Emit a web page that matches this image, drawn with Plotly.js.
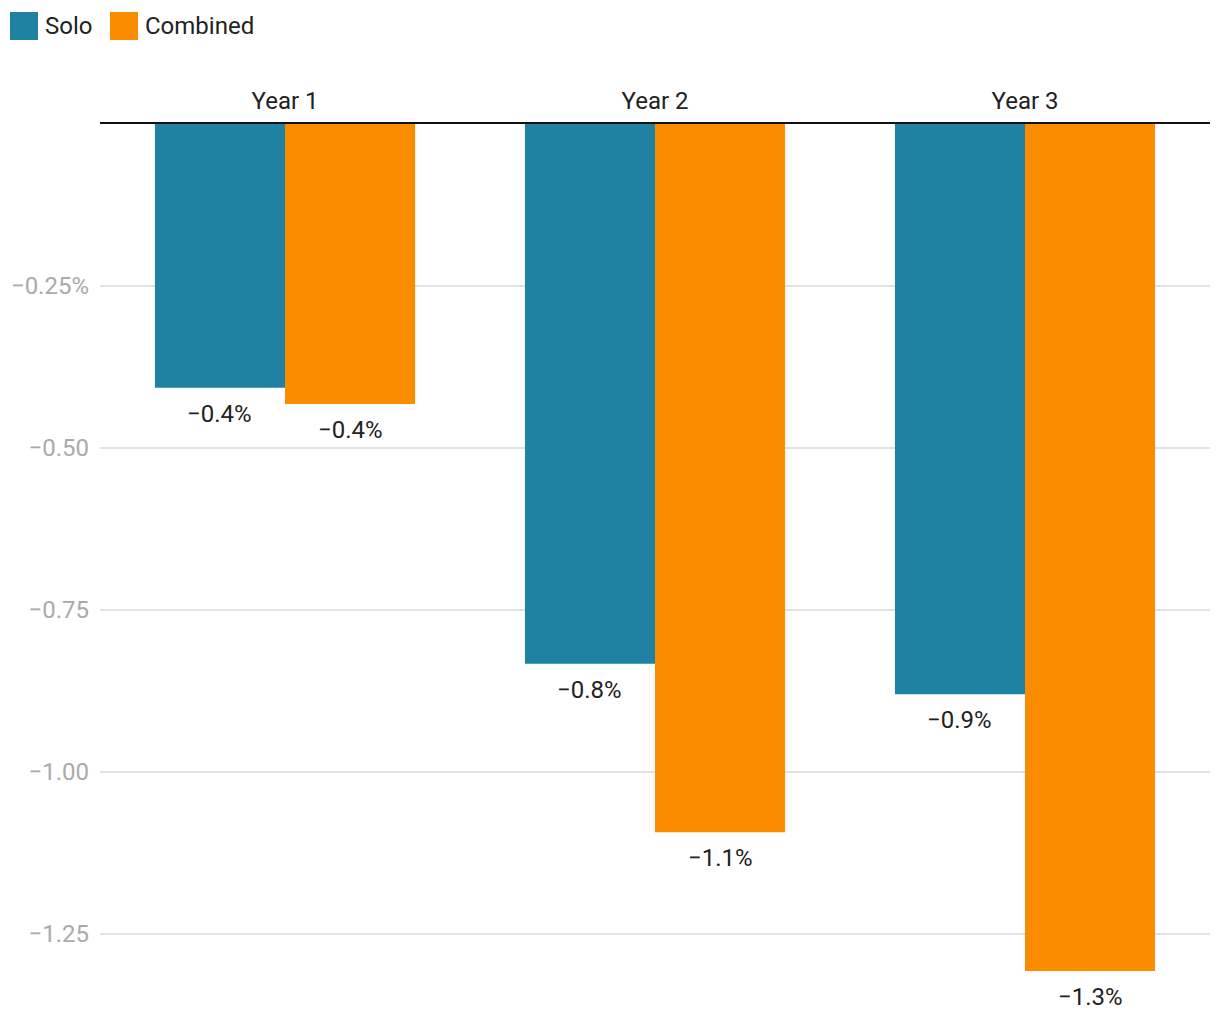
<!DOCTYPE html>
<html>
<head>
<meta charset="utf-8">
<script src="https://cdn.plot.ly/plotly-3.0.1.min.js"></script>
<style>html,body{margin:0;padding:0;background:#fff;}#chart{width:1220px;height:1020px;}</style>
</head>
<body>
<div id="chart"></div>
<script>
const categories = ['Year 1', 'Year 2', 'Year 3'];
const seriesNames = ['Solo', 'Combined'];
const soloValues = [-0.407, -0.833, -0.880];
const combinedValues = [-0.432, -1.093, -1.307];
const seriesColors = ['#1f82a3', '#fb8c00'];
const yTickVals = [-0.25, -0.5, -0.75, -1.0, -1.25];
const yTickText = ['\u22120.25%', '\u22120.50', '\u22120.75', '\u22121.00', '\u22121.25'];

const W = 1220, H = 1020;
const M = {l: 100, r: 10, t: 124, b: 15};
const plotW = W - M.l - M.r, plotH = H - M.t - M.b;
const pxPerUnit = 648;
const yMin = -plotH / pxPerUnit;
const BARGAP = 0.297;

function fmt(v) { return (v < 0 ? '\u2212' : '') + Math.abs(v).toFixed(1) + '%'; }
function px2paperX(px) { return (px - M.l) / plotW; }
function px2paperY(py) { return (H - M.b - py) / plotH; }

const allValues = [soloValues, combinedValues];
const traces = seriesNames.map((name, i) => ({
  type: 'bar',
  name: name,
  x: categories,
  y: allValues[i],
  marker: {color: seriesColors[i]},
  hoverinfo: 'none'
}));

const shapes = [];
const annotations = [];
const legendX = [10, 110];
seriesNames.forEach((name, i) => {
  shapes.push({type: 'rect', xref: 'paper', yref: 'paper',
    x0: px2paperX(legendX[i]), x1: px2paperX(legendX[i] + 28),
    y0: px2paperY(40), y1: px2paperY(12),
    fillcolor: seriesColors[i], line: {width: 0}});
  annotations.push({xref: 'paper', yref: 'paper', x: px2paperX(legendX[i] + 33), y: px2paperY(26),
    xanchor: 'left', yanchor: 'middle', text: name, showarrow: false,
    font: {family: 'Roboto', size: 24, color: '#222'}});
});

// value labels under each bar, aligned to the grouped bar positions
const catPx = plotW / categories.length;
const barPx = catPx * (1 - BARGAP) / seriesNames.length;
allValues.forEach((vals, i) => {
  vals.forEach((v, j) => {
    annotations.push({xref: 'x', yref: 'y', x: categories[j], y: v,
      xshift: (i - (seriesNames.length - 1) / 2) * barPx,
      yshift: -26, xanchor: 'center', yanchor: 'middle',
      text: fmt(v), showarrow: false,
      font: {family: 'Roboto', size: 24, color: '#222'}});
  });
});

const layout = {
  width: W, height: H,
  margin: M,
  paper_bgcolor: '#fff', plot_bgcolor: '#fff',
  showlegend: false,
  barmode: 'group',
  bargap: BARGAP,
  bargroupgap: 0,
  font: {family: 'Roboto', color: '#222'},
  xaxis: {
    side: 'top',
    showline: true, linecolor: '#111', linewidth: 2,
    ticks: '', showgrid: false,
    tickfont: {family: 'Roboto', size: 24, color: '#222'},
    ticklabelstandoff: 3,
    fixedrange: true
  },
  yaxis: {
    range: [yMin, 0],
    tickvals: yTickVals, ticktext: yTickText,
    showgrid: true, gridcolor: '#e2e2e2', gridwidth: 1.5,
    zeroline: false, showline: false, ticks: '',
    tickfont: {family: 'Roboto', size: 24, color: '#aaa'},
    ticklabelstandoff: 10,
    fixedrange: true
  },
  shapes: shapes,
  annotations: annotations
};

Plotly.newPlot('chart', traces, layout, {displayModeBar: false, staticPlot: true});
</script>
</body>
</html>
